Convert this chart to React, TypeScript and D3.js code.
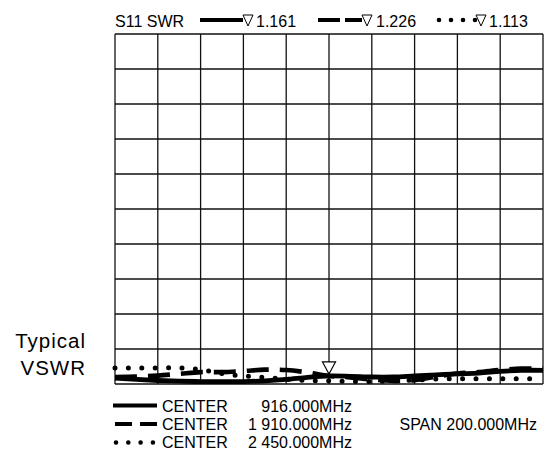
import React from "react";
import * as d3 from "d3";

// Frequency offset from centre (MHz), span 200 MHz
const offsets = [-100, -90, -80, -70, -60, -50, -40, -30, -20, -10, 0, 10, 20, 30, 40, 50, 60, 70, 80, 90, 100];
const swr916 = [1.017, 1.013, 1.010, 1.008, 1.007, 1.007, 1.007, 1.009, 1.013, 1.019, 1.023, 1.022, 1.020, 1.020, 1.023, 1.026, 1.029, 1.031, 1.036, 1.039, 1.039];
const swr1910 = [1.020, 1.021, 1.024, 1.029, 1.034, 1.034, 1.037, 1.041, 1.040, 1.033, 1.023, 1.019, 1.013, 1.009, 1.011, 1.021, 1.030, 1.034, 1.040, 1.044, 1.044];
const swr2450 = [1.046, 1.046, 1.046, 1.046, 1.041, 1.030, 1.023, 1.019, 1.014, 1.010, 1.009, 1.007, 1.007, 1.009, 1.011, 1.014, 1.015, 1.015, 1.015, 1.015, 1.015];
const markerValues = ["1.161", "1.226", "1.113"];
const centerLabels = ["916.000MHz", "1 910.000MHz", "2 450.000MHz"];
const spanLabel = "SPAN 200.000MHz";
const xDivisions = 10;
const yDivisions = 10;

const FONT = "'Liberation Sans', Arial, Helvetica, sans-serif";

export default function App() {
  const left = 115, right = 543, top = 34, bottom = 384;
  const x = d3.scaleLinear().domain([-100, 100]).range([left, right]);
  const y = d3.scaleLinear().domain([1, 2]).range([bottom, top]);

  const line = d3
    .line<[number, number]>()
    .x((d) => x(d[0]))
    .y((d) => y(d[1]))
    .curve(d3.curveCatmullRom.alpha(0.5));

  const series = [
    { vals: swr916, dash: undefined as string | undefined, cap: "butt", w: 4.8 },
    { vals: swr1910, dash: "22 11", cap: "butt", w: 4.6 },
    { vals: swr2450, dash: "0 13.4", cap: "round", w: 5 },
  ];

  const xTicks = d3.range(xDivisions + 1).map((i) => -100 + (200 / xDivisions) * i);
  const yTicks = d3.range(yDivisions + 1).map((i) => 1 + i / yDivisions);

  const tri = (cx: number, tipY: number, w: number, h: number) =>
    `M${cx - w / 2},${tipY - h} L${cx + w / 2},${tipY - h} L${cx},${tipY} Z`;

  const markerY = y(swr916[offsets.indexOf(0)]) - 2;

  return (
    <svg
      width={547}
      height={452}
      style={{ position: "absolute", left: 0, top: 0, background: "#fff" }}
      fontFamily={FONT}
    >
      <rect x={0} y={0} width={547} height={452} fill="#fff" />
      {/* grid */}
      {xTicks.map((t, i) => (
        <line key={"gx" + i} x1={x(t)} x2={x(t)} y1={top} y2={bottom} stroke="#111" strokeWidth={1.3} />
      ))}
      {yTicks.map((t, i) => (
        <line key={"gy" + i} x1={left} x2={right} y1={y(t)} y2={y(t)} stroke="#111" strokeWidth={1.3} />
      ))}

      {/* traces */}
      {series.map((s, i) => (
        <path
          key={"s" + i}
          d={line(offsets.map((o, j) => [o, s.vals[j]] as [number, number])) || ""}
          fill="none"
          stroke="#000"
          strokeWidth={s.w}
          strokeDasharray={s.dash}
          strokeLinecap={s.cap as any}
        />
      ))}

      {/* marker */}
      <path d={tri(x(0), markerY, 13, 12)} fill="#fff" stroke="#000" strokeWidth={1.2} />

      {/* top legend */}
      <text x={115} y={26.5} fontSize={16}>S11 SWR</text>
      <line x1={200} x2={243} y1={20} y2={20} stroke="#000" strokeWidth={4} />
      <path d={tri(248, 26, 10, 11)} fill="none" stroke="#000" strokeWidth={1} />
      <text x={256} y={26.5} fontSize={16}>{markerValues[0]}</text>
      <line x1={318} x2={362} y1={20} y2={20} stroke="#000" strokeWidth={4} strokeDasharray="22 5" />
      <path d={tri(367, 26, 10, 11)} fill="none" stroke="#000" strokeWidth={1} />
      <text x={376} y={26.5} fontSize={16}>{markerValues[1]}</text>
      <line x1={439} x2={476} y1={20} y2={20} stroke="#000" strokeWidth={4.6} strokeDasharray="0 12" strokeLinecap="round" />
      <path d={tri(481, 26, 10, 11)} fill="none" stroke="#000" strokeWidth={1} />
      <text x={489} y={26.5} fontSize={16}>{markerValues[2]}</text>

      {/* Typical VSWR */}
      <text x={86} y={348} fontSize={20.5} letterSpacing={1} textAnchor="end">Typical</text>
      <text x={86} y={375} fontSize={20.5} letterSpacing={1} textAnchor="end">VSWR</text>

      {/* bottom legend */}
      <line x1={113} x2={157} y1={405.5} y2={405.5} stroke="#000" strokeWidth={4} />
      <line x1={115} x2={157} y1={424} y2={424} stroke="#000" strokeWidth={4} strokeDasharray="17 8" />
      <line x1={116} x2={160} y1={442.5} y2={442.5} stroke="#000" strokeWidth={4.6} strokeDasharray="0 12.3" strokeLinecap="round" />
      {centerLabels.map((c, i) => (
        <g key={"c" + i}>
          <text x={162} y={411.5 + i * 18.3} fontSize={16}>CENTER</text>
          <text x={352} y={411.5 + i * 18.3} fontSize={16} textAnchor="end">{c}</text>
        </g>
      ))}
      <text x={537} y={429.8} fontSize={16} textAnchor="end">{spanLabel}</text>
    </svg>
  );
}
